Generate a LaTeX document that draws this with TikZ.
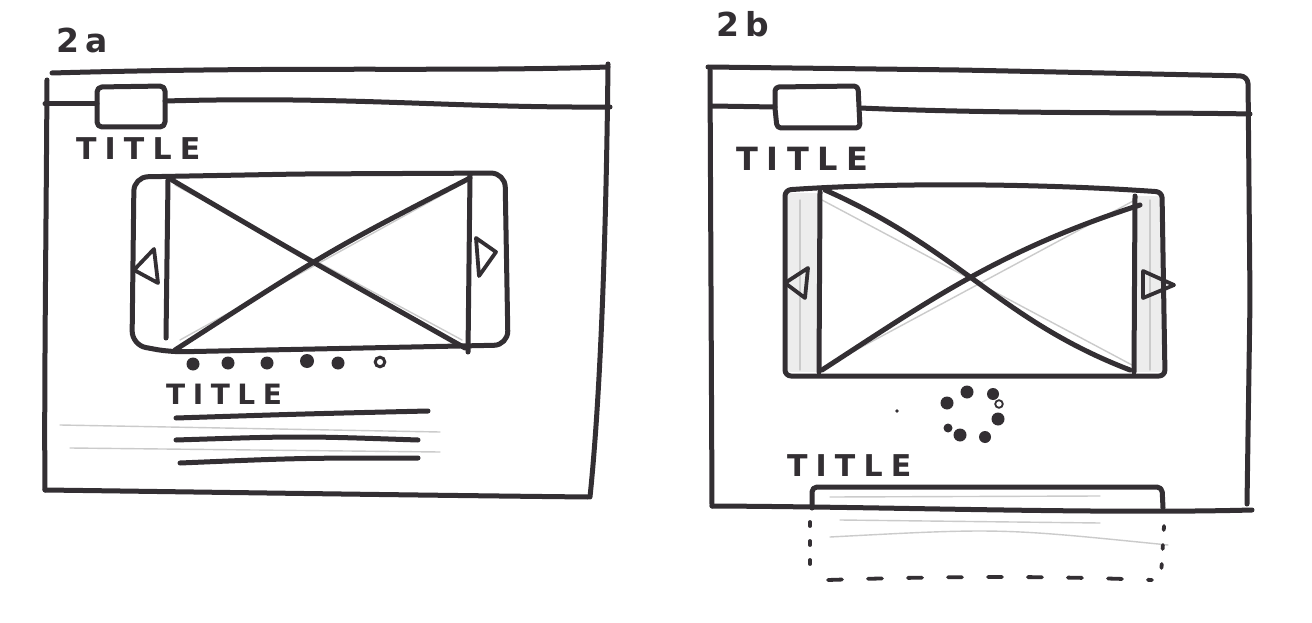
\documentclass[tikz,border=0pt]{standalone}
\usepackage{fontspec}
\newfontfamily\handfont[LetterSpace=27]{DejaVu Sans}
\newfontfamily\handfontB[LetterSpace=18]{DejaVu Sans}
\definecolor{inkc}{HTML}{332F33}
\definecolor{pencil}{HTML}{CBCBCB}
\begin{document}
\begin{tikzpicture}[x=1pt,y=-1pt,
  ink/.style={draw=inkc,line width=5pt,line cap=round,line join=round},
  inkthin/.style={draw=inkc,line width=3.8pt,line cap=round,line join=round},
  pen/.style={draw=pencil,line width=1.4pt,line cap=round},
  hand/.style={text=inkc,inner sep=0pt,anchor=west,font=\handfont\bfseries\fontsize{30}{30}\selectfont},
  numlbl/.style={text=inkc,inner sep=0pt,anchor=west,font=\handfontB\bfseries\fontsize{33}{33}\selectfont},
  dotf/.style={fill=inkc}]
\useasboundingbox (0,0) rectangle (1312,623);
\fill[white] (0,0) rectangle (1312,623);

% ================= 2a =================
\node[numlbl] (lbl2a) at (56,40) {2a};
% frame
\draw[ink] (52,73) .. controls (300,66) and (450,72) .. (608,67);
\draw[ink] (608,64) .. controls (606,250) and (600,400) .. (590,497);
\draw[ink] (47,80) .. controls (46,250) and (44,400) .. (45,490);
\draw[ink] (45,490) .. controls (200,492) and (400,495) .. (588,497);
% header bar and tab
\draw[ink] (45,104) -- (97,104);
\draw[ink] (165,101) .. controls (350,96) and (450,108) .. (610,107);
\draw[ink,rounded corners=5pt] (97,110) -- (97,87) -- (165,86) -- (165,127) -- (97,127) -- (97,110);
\node[hand] (title2a) at (76,149) {TITLE};
% carousel
\draw[pen] (175,185) -- (462,340);
\draw[pen] (180,340) -- (460,185);
\draw[ink,rounded corners=14pt] (300,174) -- (505,173) -- (508,345) -- (170,352) -- (132,345) -- (134,177) -- cycle;
\draw[ink] (168,180) -- (166,338);
\draw[ink] (470,175) -- (468,352);
\draw[ink] (172,180) .. controls (300,255) .. (465,348);
\draw[ink] (470,178) .. controls (330,250) .. (175,350);
\draw[inkthin] (134,270) -- (154,249) -- (158,283) -- cycle;
\draw[inkthin] (476,238) -- (496,252) -- (479,276) -- cycle;
% pager dots
\fill[dotf] (193,364) circle (6.5);
\fill[dotf] (228,363) circle (6.5);
\fill[dotf] (267,363) circle (6.5);
\fill[dotf] (307,361) circle (7);
\fill[dotf] (338,363) circle (6.5);
\draw[inkc,line width=3pt] (380,362) circle (4.8);
% title and text lines
\node[hand,font=\handfont\bfseries\fontsize{28}{28}\selectfont] (title2a2) at (166,394) {TITLE};
\draw[pen] (60,425) -- (440,432);
\draw[pen] (70,448) -- (440,452);
\draw[ink] (176,418) .. controls (300,414) .. (428,411);
\draw[ink] (176,440) .. controls (300,436) .. (418,440);
\draw[ink] (180,463) .. controls (300,458) .. (418,458);

% ================= 2b =================
\node[numlbl] (lbl2b) at (716,24) {2b};
% frame
\draw[ink,rounded corners=8pt] (708,67) -- (960,70) -- (1248,76) -- (1250,300) -- (1247,504);
\draw[ink] (710,70) -- (712,506);
\draw[ink] (712,506) .. controls (900,507) and (1100,514) .. (1252,510);
% header bar and tab
\draw[ink] (712,106) -- (775,107);
\draw[ink] (860,108) .. controls (1000,114) and (1150,112) .. (1250,114);
\draw[ink,rounded corners=4pt] (775,108) -- (775,87) -- (858,86) -- (860,128) -- (777,128) -- (775,108);
\node[hand,font=\handfont\bfseries\fontsize{32}{32}\selectfont] (title2b) at (736,159) {TITLE};
% carousel
\fill[gray!14] (788,193) rectangle (818,372);
\fill[gray!14] (1137,196) rectangle (1162,372);
\draw[pen] (822,200) -- (1132,365);
\draw[pen] (828,365) -- (1135,200);
\draw[pen] (800,200) -- (800,370);
\draw[pen] (1150,200) -- (1150,370);
\draw[ink,rounded corners=6pt] (785,190) .. controls (900,182) and (1050,184) .. (1162,192) -- (1165,376) -- (785,376) -- cycle;
\draw[ink] (820,192) -- (819,372);
\draw[ink] (1135,196) -- (1134,372);
\draw[ink] (825,190) .. controls (960,250) and (1000,320) .. (1130,370);
\draw[ink] (1140,205) .. controls (1000,250) and (930,300) .. (822,370);
\draw[inkthin] (785,283) -- (808,268) -- (805,298) -- cycle;
\draw[inkthin] (1143,271) -- (1174,285) -- (1143,298) -- cycle;
% loading spinner
\fill[dotf] (947,403) circle (6.5);
\fill[dotf] (967,392) circle (6.5);
\fill[dotf] (993,394) circle (6);
\draw[inkc,line width=1.8pt] (999,404) circle (3.8);
\fill[dotf] (998,419) circle (6.5);
\fill[dotf] (985,437) circle (6);
\fill[dotf] (960,435) circle (6.5);
\fill[dotf] (948,428) circle (4.5);
\fill[dotf] (897,411) circle (1.8);
% title and expanding panel
\node[hand] (title2b2) at (787,466) {TITLE};
\draw[pen] (830,497) -- (1100,496);
\draw[pen] (840,520) -- (1100,523);
\draw[pen] (830,537) .. controls (1000,528) .. (1168,545);
\draw[ink,rounded corners=5pt] (812,508) -- (812,487) -- (1162,487) -- (1163,508);
\draw[inkthin,dash pattern=on 4pt off 15pt] (810,522) -- (810,578);
\draw[inkthin,dash pattern=on 14pt off 26pt] (828,580) .. controls (950,576) and (1050,576) .. (1152,580);
\draw[inkthin,dash pattern=on 4pt off 15pt] (1164,526) -- (1161,576);
\end{tikzpicture}
\end{document}
